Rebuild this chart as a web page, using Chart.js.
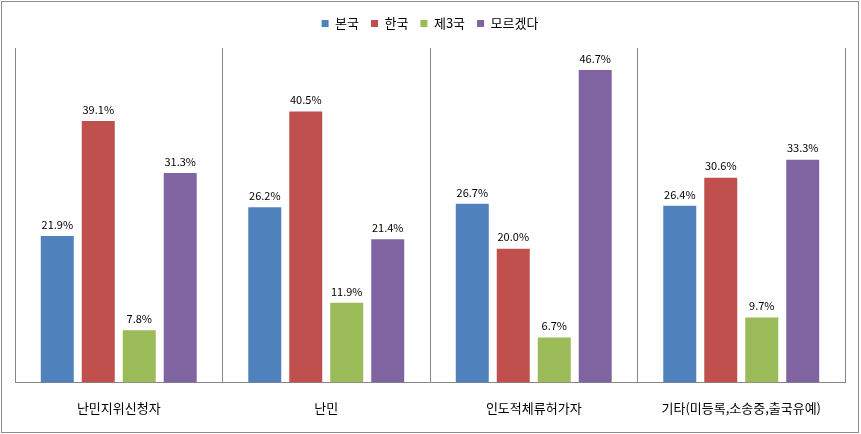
<!DOCTYPE html>
<html><head><meta charset="utf-8">
<script src="https://cdn.jsdelivr.net/npm/chart.js@4"></script>
<style>html,body{margin:0;padding:0;background:#fff}#wrap{width:861px;height:434px;position:relative}</style>
</head><body><div id="wrap"><canvas id="c" width="861" height="434"></canvas></div>
<script>
const categories = ["난민지위신청자", "난민", "인도적체류허가자", "기타(미등록,소송중,출국유예)"];
const seriesNames = ["본국", "한국", "제3국", "모르겠다"];
const homeCountry = [21.9, 26.2, 26.7, 26.4];
const korea = [39.1, 40.5, 20.0, 30.6];
const thirdCountry = [7.8, 11.9, 6.7, 9.7];
const unknown = [31.3, 21.4, 46.7, 33.3];
const colors = ["#4F81BD", "#C0504D", "#9BBB59", "#8064A2"];
const seriesData = [homeCountry, korea, thirdCountry, unknown];

const FONT = "'Noto Sans CJK KR', 'Noto Sans', sans-serif";

const labelPlugin = {
  id: 'vals',
  afterDatasetsDraw(chart) {
    const ctx = chart.ctx;
    ctx.save();
    ctx.font = "11px " + FONT;
    ctx.fillStyle = "#000";
    ctx.textAlign = "center";
    ctx.textBaseline = "bottom";
    chart.data.datasets.forEach((ds, i) => {
      chart.getDatasetMeta(i).data.forEach((bar, j) => {
        ctx.fillText(ds.data[j].toFixed(1) + "%", bar.x, bar.y - 6);
      });
    });
    ctx.restore();
  }
};
const borderPlugin = {
  id: 'frame',
  beforeUpdate(chart) {
    const lg = chart.legend;
    if (lg && !lg._patched) {
      const orig = lg.fit.bind(lg);
      lg.fit = function () { orig(); this.height += 8; };
      lg._patched = true;
    }
  },
  afterDraw(chart) {
    const ctx = chart.ctx;
    ctx.save();
    ctx.strokeStyle = "#8c8c8c";
    ctx.lineWidth = 1;
    ctx.strokeRect(1.5, 1.5, 857, 431);
    ctx.restore();
  }
};

new Chart(document.getElementById('c'), {
  type: 'bar',
  data: {
    labels: categories,
    datasets: seriesNames.map((n, i) => ({
      label: n, data: seriesData[i], backgroundColor: colors[i],
      categoryPercentage: 0.79, barPercentage: 0.805
    }))
  },
  options: {
    responsive: false, animation: false,
    layout: { padding: { left: 15, right: 16, top: 5, bottom: 0 } },
    plugins: {
      legend: {
        position: 'top',
        labels: { boxWidth: 7, boxHeight: 7, padding: 12, color: '#000', font: { family: FONT, size: 13 } }
      },
      tooltip: { enabled: false }
    },
    scales: {
      x: {
        grid: { offset: true, color: '#868686', drawTicks: false },
        border: { color: '#868686' },
        ticks: { color: '#000', padding: 18, font: { family: FONT, size: 13 } }
      },
      y: { display: false, min: 0, max: 50 }
    }
  },
  plugins: [labelPlugin, borderPlugin]
});
</script></body></html>
